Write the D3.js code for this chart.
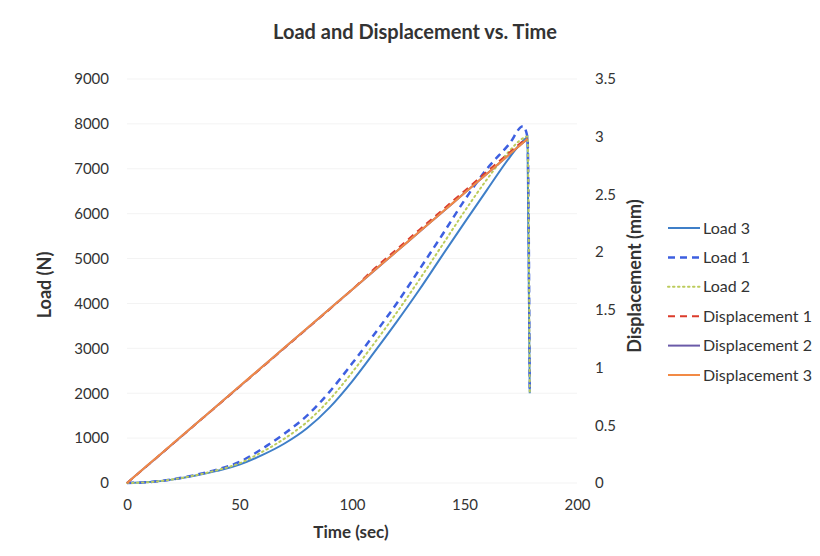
<!DOCTYPE html>
<html>
<head>
<meta charset="utf-8">
<script src="https://cdn.jsdelivr.net/npm/d3@7"></script>
<style>
  body { margin: 0; background: #fff; }
  text { font-family: Lato, "Open Sans", sans-serif; fill: #333; }
</style>
</head>
<body>
<div id="chart"></div>
<script>
// time samples (sec) shared by the load series
const timeSec = [0, 10, 20, 30, 40, 50, 60, 70, 80, 90, 100, 110, 120, 130, 140, 150, 160, 170, 176, 178, 179]

// load (N)
const load3 = [0, 20, 75, 160, 270, 410, 620, 880, 1220, 1680, 2260, 2920, 3600, 4310, 5060, 5800, 6530, 7250, 7620, 7700, 2000]
const load1 = [0, 20, 80, 175, 300, 470, 760, 1100, 1500, 2030, 2660, 3320, 4010, 4760, 5520, 6300, 7000, 7560, 7950, 7700, 2000]
const load2 = [0, 20, 78, 168, 285, 440, 690, 990, 1360, 1855, 2460, 3120, 3805, 4535, 5290, 6050, 6765, 7400, 7680, 7720, 2000]

// displacement (mm), ends at the peak
const dispTime = [0, 10, 20, 30, 40, 50, 60, 70, 80, 90, 100, 110, 120, 130, 140, 150, 160, 170, 176, 178]
const disp1 = [0, 0.166, 0.333, 0.500, 0.667, 0.834, 1.001, 1.169, 1.336, 1.504, 1.675, 1.858, 2.026, 2.195, 2.362, 2.530, 2.697, 2.864, 2.960, 2.988]
const disp2 = [0, 0.167, 0.334, 0.502, 0.669, 0.837, 1.004, 1.172, 1.339, 1.507, 1.674, 1.842, 2.009, 2.177, 2.344, 2.512, 2.679, 2.847, 2.947, 2.980]
const disp3 = [0, 0.168, 0.335, 0.503, 0.670, 0.838, 1.005, 1.173, 1.340, 1.508, 1.675, 1.843, 2.010, 2.178, 2.345, 2.513, 2.680, 2.848, 2.948, 2.982]

const xTicks = [0, 50, 100, 150, 200]
const loadTicks = [0, 1000, 2000, 3000, 4000, 5000, 6000, 7000, 8000, 9000]
const dispTicks = [0, 0.5, 1, 1.5, 2, 2.5, 3, 3.5]

const fullwidth = 820, fullheight = 556
const plot = { left: 127, right: 577, top: 79, bottom: 483 }

const series = [
  { name: "Load 3", t: timeSec, v: load3, axis: "load", color: "#3f7fc8", dash: null, width: 2 },
  { name: "Load 1", t: timeSec, v: load1, axis: "load", color: "#3d5fe0", dash: "7,5", width: 2.5 },
  { name: "Load 2", t: timeSec, v: load2, axis: "load", color: "#bccc5c", dash: "1.5,3.5", width: 2 },
  { name: "Displacement 1", t: dispTime, v: disp1, axis: "disp", color: "#dc3b2b", dash: "7,5", width: 2 },
  { name: "Displacement 2", t: dispTime, v: disp2, axis: "disp", color: "#6a5aa8", dash: null, width: 2 },
  { name: "Displacement 3", t: dispTime, v: disp3, axis: "disp", color: "#f28a45", dash: null, width: 2 }
]

const x = d3.scaleLinear().domain([0, 200]).range([plot.left, plot.right])
const yLoad = d3.scaleLinear().domain([0, 9000]).range([plot.bottom, plot.top])
const yDisp = d3.scaleLinear().domain([0, 3.5]).range([plot.bottom, plot.top])

const svg = d3.select("#chart")
  .append("svg")
  .attr("width", fullwidth)
  .attr("height", fullheight)

svg.append("rect").attr("width", fullwidth).attr("height", fullheight).attr("fill", "#fff")

// faint gridlines
svg.append("g")
  .selectAll("line")
  .data(loadTicks)
  .enter().append("line")
  .attr("x1", plot.left).attr("x2", plot.right)
  .attr("y1", d => yLoad(d)).attr("y2", d => yLoad(d))
  .attr("stroke", "#f3f3f3")
  .attr("stroke-width", 1)

// axes
const leftAxis = svg.append("g")
  .attr("transform", `translate(${plot.left},0)`)
  .call(d3.axisLeft(yLoad).tickValues(loadTicks).tickSize(0).tickPadding(18).tickFormat(d3.format("d")))
const rightAxis = svg.append("g")
  .attr("transform", `translate(${plot.right},0)`)
  .call(d3.axisRight(yDisp).tickValues(dispTicks).tickSize(0).tickPadding(18).tickFormat(d3.format("")))
const bottomAxis = svg.append("g")
  .attr("transform", `translate(0,${plot.bottom})`)
  .call(d3.axisBottom(x).tickValues(xTicks).tickSize(0).tickPadding(16))

;[leftAxis, rightAxis, bottomAxis].forEach(a => {
  a.select(".domain").remove()
  a.selectAll("text").style("font-size", "15px").style("fill", "#333").style("font-family", "Lato, sans-serif")
})

// lines
const line = s => d3.line()
  .curve(d3.curveMonotoneX)
  .x((d, i) => x(s.t[i]))
  .y(d => s.axis === "load" ? yLoad(d) : yDisp(d))

svg.append("g")
  .selectAll("path")
  .data(series)
  .enter().append("path")
  .attr("d", s => line(s)(s.v))
  .attr("fill", "none")
  .attr("stroke", s => s.color)
  .attr("stroke-width", s => s.width)
  .attr("stroke-dasharray", s => s.dash)
  .attr("stroke-linejoin", "round")
  .attr("stroke-linecap", s => s.name === "Load 2" ? "round" : "butt")

// title & axis labels
svg.append("text")
  .attr("x", 415).attr("y", 39)
  .attr("text-anchor", "middle")
  .style("font-size", "20px").style("font-weight", "bold")
  .text("Load and Displacement vs. Time")

svg.append("text")
  .attr("x", 351).attr("y", 538)
  .attr("text-anchor", "middle")
  .style("font-size", "17px").style("font-weight", "bold")
  .text("Time (sec)")

svg.append("text")
  .attr("transform", "translate(51,285) rotate(-90)")
  .attr("text-anchor", "middle")
  .style("font-size", "18px").style("font-weight", "bold")
  .text("Load (N)")

svg.append("text")
  .attr("transform", "translate(641,276) rotate(-90)")
  .attr("text-anchor", "middle")
  .style("font-size", "18px").style("font-weight", "bold")
  .text("Displacement (mm)")

// legend
const legend = svg.append("g").attr("class", "legend")
const rows = legend.selectAll("g")
  .data(series)
  .enter().append("g")
  .attr("transform", (d, i) => `translate(668,${228 + i * 29.4})`)

rows.append("line")
  .attr("x1", 0).attr("x2", 32)
  .attr("stroke", s => s.color)
  .attr("stroke-width", s => s.width)
  .attr("stroke-dasharray", s => s.dash)
  .attr("stroke-linecap", s => s.name === "Load 2" ? "round" : "butt")

rows.append("text")
  .attr("x", 35).attr("dy", "0.35em")
  .style("font-size", "16px")
  .text(s => s.name)
</script>
</body>
</html>
